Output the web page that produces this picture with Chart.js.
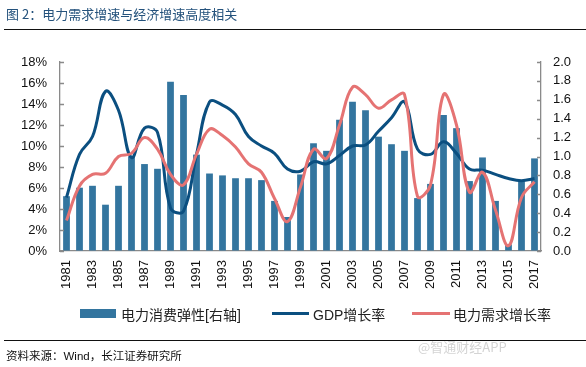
<!DOCTYPE html>
<html>
<head>
<meta charset="utf-8">
<script src="https://cdn.jsdelivr.net/npm/chart.js@4"></script>
<style>
  body { margin: 0; background: #fff; }
  #wrap { position: relative; width: 586px; height: 367px; overflow: hidden; font-family: "Liberation Sans", "Noto Sans CJK SC", sans-serif; }
  #c { position: absolute; left: 0; top: 0; }
  .title { position: absolute; left: 6px; top: 4px; font: 13px "Noto Sans CJK SC", sans-serif; color: #24527c; }
  .rule { position: absolute; left: 4px; right: 0; height: 0; border-top: 1.5px solid #111; }
  .legend { position: absolute; top: 304px; font: 14px "Liberation Sans", "Noto Sans CJK SC", sans-serif; color: #222; white-space: nowrap; }
  .sw { position: absolute; }
  .src { position: absolute; left: 6px; top: 347px; font: 11.5px "Liberation Sans", "Noto Sans CJK SC", sans-serif; color: #111; }
  .wm { position: absolute; left: 418px; top: 337px; font: 13px "Noto Sans CJK SC", sans-serif; color: #d4d4d4; }
</style>
</head>
<body>
<div id="wrap">
  <canvas id="c" width="586" height="367"></canvas>
  <div class="title">图 2：电力需求增速与经济增速高度相关</div>
  <div class="rule" style="top:29px"></div>

  <div class="sw" style="left:80px;top:309px;width:36px;height:9px;background:#33759f"></div>
  <div class="legend" style="left:121px">电力消费弹性[右轴]</div>
  <div class="sw" style="left:272px;top:312px;width:37px;height:3px;background:#0b4f80"></div>
  <div class="legend" style="left:313px">GDP增长率</div>
  <div class="sw" style="left:412px;top:312px;width:38px;height:3px;background:#e57373"></div>
  <div class="legend" style="left:453px">电力需求增长率</div>

  <div class="rule" style="top:340px"></div>
  <div class="src">资料来源：Wind，长江证券研究所</div>
  <div class="wm">@智通财经APP</div>
</div>

<script>
const years = ['1981','1982','1983','1984','1985','1986','1987','1988','1989','1990',
  '1991','1992','1993','1994','1995','1996','1997','1998','1999','2000',
  '2001','2002','2003','2004','2005','2006','2007','2008','2009','2010',
  '2011','2012','2013','2014','2015','2016','2017'];

// 电力消费弹性 (right axis)
const elasticity = [0.58,0.67,0.69,0.49,0.69,1.00,0.92,0.87,1.79,1.65,
  1.02,0.82,0.80,0.77,0.77,0.75,0.53,0.36,0.81,1.14,
  1.06,1.39,1.58,1.49,1.21,1.13,1.06,0.56,0.71,1.44,
  1.30,0.74,0.99,0.53,0.07,0.74,0.98];

// GDP增长率 (%)
const gdpGrowth = [5.1,9.2,10.9,15.2,13.4,8.9,11.7,11.3,4.1,3.8,
  9.2,14.2,13.9,13.0,10.9,10.0,9.3,7.8,7.6,8.5,
  8.3,9.1,10.0,10.1,11.4,12.7,14.2,9.7,9.2,10.4,
  9.3,7.8,7.7,7.3,6.9,6.7,6.9];

// 电力需求增长率 (%)
const powerGrowth = [2.9,6.2,7.3,7.4,9.0,9.3,10.8,9.7,7.3,6.3,
  9.2,11.6,11.0,9.9,8.3,7.5,5.0,2.8,6.1,9.7,
  8.8,12.0,15.6,14.9,13.6,14.4,14.9,5.2,6.3,14.9,
  12.0,5.6,7.5,3.9,0.5,5.1,6.6];

const leftTicks = [0,2,4,6,8,10,12,14,16,18];
const rightTicks = [0,0.2,0.4,0.6,0.8,1.0,1.2,1.4,1.6,1.8,2.0];

const axisColor = '#8a8a8a';

// short tick marks pointing into the plot, as in the original
const innerTicks = {
  id: 'innerTicks',
  afterDraw(chart) {
    const ctx = chart.ctx;
    const y = chart.scales.y, y1 = chart.scales.y1;
    ctx.save();
    ctx.strokeStyle = axisColor;
    ctx.lineWidth = 1.3;
    ctx.beginPath();
    leftTicks.forEach(v => {
      const p = Math.round(y.getPixelForValue(v)) + 0.5;
      ctx.moveTo(y.right, p); ctx.lineTo(y.right + 4, p);
    });
    rightTicks.forEach(v => {
      const p = Math.round(y1.getPixelForValue(v)) + 0.5;
      ctx.moveTo(y1.left - 4, p); ctx.lineTo(y1.left, p);
    });
    ctx.stroke();
    ctx.restore();
  }
};

const tickFont = { family: '"Liberation Sans", Arial, sans-serif', size: 13 };

new Chart(document.getElementById('c'), {
  type: 'bar',
  data: {
    labels: years,
    datasets: [
      {
        type: 'line',
        label: '电力需求增长率',
        data: powerGrowth,
        yAxisID: 'y',
        borderColor: '#e57373',
        borderWidth: 3,
        pointRadius: 0,
        tension: 0.4,
        fill: false,
        order: 1
      },
      {
        type: 'line',
        label: 'GDP增长率',
        data: gdpGrowth,
        yAxisID: 'y',
        borderColor: '#0b4f80',
        borderWidth: 3,
        pointRadius: 0,
        tension: 0.4,
        fill: false,
        order: 2
      },
      {
        type: 'bar',
        label: '电力消费弹性[右轴]',
        data: elasticity,
        yAxisID: 'y1',
        backgroundColor: '#33759f',
        barPercentage: 0.52,
        categoryPercentage: 1,
        order: 3
      }
    ]
  },
  options: {
    responsive: false,
    animation: false,
    devicePixelRatio: 1,
    layout: { padding: { top: 62, bottom: 66, left: 0, right: 0 } },
    plugins: { legend: { display: false }, tooltip: { enabled: false } },
    scales: {
      x: {
        offset: true,
        grid: { drawOnChartArea: false, drawTicks: false },
        border: { color: axisColor, width: 1.3 },
        ticks: {
          autoSkip: false,
          maxRotation: 90,
          minRotation: 90,
          padding: 9,
          color: '#111',
          font: tickFont,
          callback: (v, i) => (i % 2 === 0 ? years[i] : '')
        },
        afterFit: s => { s.height = 50; }
      },
      y: {
        position: 'left',
        min: 0,
        max: 18,
        grid: { drawOnChartArea: false, drawTicks: false },
        border: { color: axisColor, width: 1.3 },
        ticks: {
          stepSize: 2,
          padding: 13,
          color: '#111',
          font: tickFont,
          callback: v => v + '%'
        },
        afterFit: s => { s.width = 60; }
      },
      y1: {
        position: 'right',
        min: 0,
        max: 2,
        grid: { drawOnChartArea: false, drawTicks: false },
        border: { color: axisColor, width: 1.3 },
        ticks: {
          stepSize: 0.2,
          padding: 12,
          color: '#111',
          font: tickFont,
          callback: v => v.toFixed(1)
        },
        afterFit: s => { s.width = 45; }
      }
    }
  },
  plugins: [innerTicks]
});
</script>
</body>
</html>
